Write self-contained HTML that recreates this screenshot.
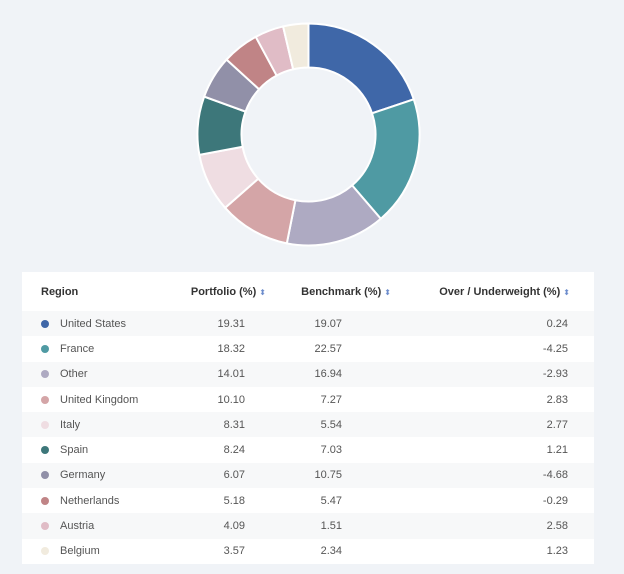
<!DOCTYPE html>
<html><head><meta charset="utf-8"><style>
body{margin:0;width:624px;height:574px;background:#f0f3f7;font-family:"Liberation Sans",sans-serif;position:relative;overflow:hidden}
#panel{position:absolute;left:22px;top:272px;width:572px;height:292px;background:#fff}
.row{position:absolute;left:0;width:572px;height:25.3px;font-size:11px;color:#555}
.row span,.hdr span{position:absolute;top:50%;transform:translateY(-50%);white-space:nowrap}
.hdr{position:absolute;left:0;top:0;width:572px;height:39px;font-size:11px;font-weight:bold;color:#333}
.r{text-align:right}
.dot{width:8px;height:8px;border-radius:50%;left:19px}
.sort{color:#6c8ccc;font-size:8px;font-weight:normal}
</style></head><body>
<svg id="donut" width="624" height="260" style="position:absolute;left:0;top:0"></svg>
<div id="panel">
<div class="hdr">
<span style="left:19px">Region</span>
<span style="right:328px">Portfolio (%) <span class="sort" style="position:static;transform:none">&#x2B0D;</span></span>
<span style="right:203px">Benchmark (%) <span class="sort" style="position:static;transform:none">&#x2B0D;</span></span>
<span style="right:24px">Over / Underweight (%) <span class="sort" style="position:static;transform:none">&#x2B0D;</span></span>
</div>
<div id="rows"></div>
</div>
<script>
const regions=["United States","France","Other","United Kingdom","Italy","Spain","Germany","Netherlands","Austria","Belgium"];
const portfolio=[19.31,18.32,14.01,10.10,8.31,8.24,6.07,5.18,4.09,3.57];
const benchmark=[19.07,22.57,16.94,7.27,5.54,7.03,10.75,5.47,1.51,2.34];
const overUnder=[0.24,-4.25,-2.93,2.83,2.77,1.21,-4.68,-0.29,2.58,1.23];
const colors=["#3f67a8","#4f9aa3","#aeaac2","#d4a5a7","#efdde2","#3d777a","#9190a8","#c08486","#e0bcc6","#f1ebde"];
const NS="http://www.w3.org/2000/svg";
const svg=document.getElementById('donut');
const cx=308.5,cy=134.5,R=111,r=67;
const total=portfolio.reduce((a,b)=>a+b,0);
let a0=0;
function pt(rad,a){return [cx+rad*Math.sin(a),cy-rad*Math.cos(a)];}
portfolio.forEach((v,i)=>{
  const a1=a0+v/total*2*Math.PI;
  const large=(a1-a0)>Math.PI?1:0;
  const p1=pt(R,a0),p2=pt(R,a1),p3=pt(r,a1),p4=pt(r,a0);
  const p=document.createElementNS(NS,'path');
  p.setAttribute('d',`M${p1[0]},${p1[1]} A${R},${R} 0 ${large} 1 ${p2[0]},${p2[1]} L${p3[0]},${p3[1]} A${r},${r} 0 ${large} 0 ${p4[0]},${p4[1]} Z`);
  p.setAttribute('fill',colors[i]);
  p.setAttribute('stroke','#fff');
  p.setAttribute('stroke-width','2');
  
  
  svg.appendChild(p);
  a0=a1;
});
const rows=document.getElementById('rows');
regions.forEach((name,i)=>{
  const d=document.createElement('div');
  d.className='row';
  
  
  d.style.top=(39+i*25.3)+'px';
  d.style.background=i%2===0?'#f7f8f9':'#fff';
  d.innerHTML=`<span class="dot" style="background:${colors[i]}"></span><span style="left:38px">${name}</span><span style="right:349px">${portfolio[i].toFixed(2)}</span><span style="right:252px">${benchmark[i].toFixed(2)}</span><span style="right:26px">${overUnder[i].toFixed(2)}</span>`;
  rows.appendChild(d);
});
</script>
</body></html>
